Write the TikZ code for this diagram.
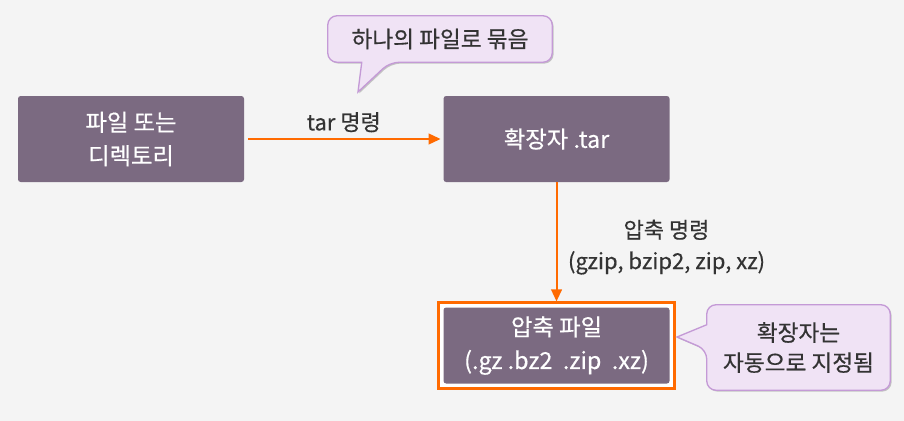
\documentclass[tikz,border=0pt]{standalone}
\usepackage{fontspec}
\setmainfont{Noto Sans CJK KR}[FakeBold=0.5]
\definecolor{BoxPlum}{HTML}{7B6A81}
\definecolor{ArrowOrange}{HTML}{FF6A00}
\definecolor{BubbleFill}{HTML}{F0E3F5}
\definecolor{BubbleEdge}{HTML}{C49AD6}
\definecolor{InkGray}{HTML}{333333}
\definecolor{PageGray}{HTML}{F4F4F4}
\usetikzlibrary{positioning, arrows.meta, fit, backgrounds, shadows}

\tikzset{
  plumbox/.style={fill=BoxPlum, rounded corners=2pt, text=white, align=center,
    minimum width=169.5pt, minimum height=64.5pt, inner sep=0pt,
    font=\fontsize{17.5}{25}\selectfont},
  flowarrow/.style={draw=ArrowOrange, line width=1.5pt,
    -{Triangle[length=9pt,width=8pt]}},
  flowlabel/.style={text=InkGray, align=center, font=\fontsize{16.5}{23.25}\selectfont},
  bubbletext/.style={text=InkGray, align=center, inner sep=0pt,
    font=\fontsize{17}{22.5}\selectfont},
  bubbleline/.style={fill=BubbleFill, draw=BubbleEdge, line width=1pt,
    rounded corners=7pt,
    drop shadow={shadow xshift=1pt, shadow yshift=-1pt, opacity=0.2, fill=black}},
}

\begin{document}
\begin{tikzpicture}[x=0.75pt, y=-0.75pt]
  \useasboundingbox (0,0) rectangle (904,421);
  \begin{scope}[on background layer]
    \fill[PageGray] (0,0) rectangle (904,421);
  \end{scope}

  % boxes
  \node[plumbox] (src) at (131,139) {파일 또는\\디렉토리};
  \node[plumbox, right=149.25pt of src] (tar) {확장자 .tar};
  \node[plumbox, minimum height=57pt, below=93.75pt of tar] (comp)
    {압축 파일\\(.gz .bz2\ \ .zip\ \ .xz)};
  \begin{scope}[on background layer]
    \node[fit=(comp), inner sep=3.3pt, draw=ArrowOrange, line width=2.2pt,
          fill=white] (frame) {};
  \end{scope}

  % arrows
  \draw[flowarrow, shorten <=3pt, shorten >=2pt] (src.east) -- (tar.west)
    node[flowlabel, midway, above=1pt] (tarcmd) {tar 명령};
  \draw[flowarrow] (tar.south) -- (tar.south |- frame.north)
    node[flowlabel, midway, right=4.5pt, yshift=-4pt] (zipcmd) {압축 명령\\(gzip, bzip2, zip, xz)};

  % callouts
  \node[bubbletext, minimum width=168pt, minimum height=34.5pt] (bundle) at (440,39)
    {하나의 파일로 묶음};
  \coordinate (bundletip) at (358,92);
  \node[bubbletext, minimum width=137.25pt, minimum height=63.75pt] (autoext) at (798.5,347.5)
    {확장자는\\자동으로 지정됨};
  \coordinate (autotip) at (677,337);
  \begin{scope}[on background layer]
    \path[bubbleline] (bundle.north) -- (bundle.north east) -- (bundle.south east)
      -- ([xshift=46.5pt]bundle.south west) [sharp corners] -- (bundletip)
      -- ([xshift=25.5pt]bundle.south west) [rounded corners=7pt]
      -- (bundle.south west) -- (bundle.north west) -- cycle;
    \path[bubbleline] (autoext.north) -- (autoext.north east) -- (autoext.south east)
      -- (autoext.south west) -- ([yshift=-33.75pt]autoext.north west) [sharp corners]
      -- (autotip) -- ([yshift=-15pt]autoext.north west) [rounded corners=7pt]
      -- (autoext.north west) -- cycle;
  \end{scope}
\end{tikzpicture}
\end{document}
